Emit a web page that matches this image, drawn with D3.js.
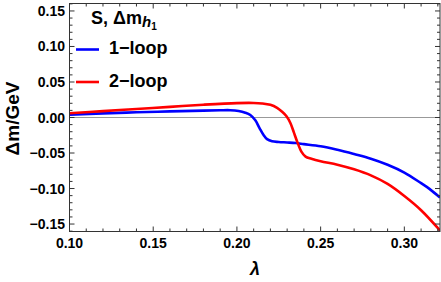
<!DOCTYPE html>
<html><head><meta charset="utf-8">
<script src="https://cdn.jsdelivr.net/npm/d3@7"></script>
<style>body{margin:0;background:#fff}svg{display:block}text{font-family:"Liberation Sans",Arial,sans-serif;font-weight:bold}</style>
</head><body><svg id="c" width="441" height="282"></svg>
<script>
const lambda1 = [0.10,0.12,0.14,0.16,0.18,0.19,0.196,0.201,0.205,0.208,0.211,0.2135,0.216,0.218,0.221,0.225,0.23,0.235,0.24,0.25,0.26,0.27,0.28,0.29,0.30,0.31,0.315,0.3213];
const loop1 = [0.004,0.0058,0.0073,0.0086,0.0097,0.0102,0.0103,0.0092,0.0068,0.0035,-0.004,-0.015,-0.025,-0.0305,-0.0335,-0.0345,-0.0352,-0.036,-0.0375,-0.0405,-0.0455,-0.0515,-0.058,-0.0665,-0.0775,-0.0925,-0.1005,-0.1127];
const lambda2 = [0.10,0.12,0.14,0.16,0.18,0.20,0.21,0.215,0.22,0.224,0.227,0.2295,0.232,0.234,0.236,0.2385,0.241,0.2445,0.25,0.26,0.27,0.28,0.29,0.30,0.31,0.3213];
const loop2 = [0.006,0.009,0.012,0.015,0.018,0.0203,0.0205,0.0198,0.0178,0.0135,0.008,0.002,-0.008,-0.021,-0.034,-0.048,-0.055,-0.058,-0.0615,-0.0665,-0.073,-0.0815,-0.0935,-0.1105,-0.1305,-0.159];
const xTicks = [0.10,0.15,0.20,0.25,0.30];
const yTicks = [-0.15,-0.10,-0.05,0.00,0.05,0.10,0.15];
const seriesNames = ["1\u2212loop","2\u2212loop"];
const seriesColors = ["#0000ff","#ff0000"];

const svg = d3.select("#c");
const L=69.5,R=440,T=3.5,B=231.5;
const x = d3.scaleLinear().domain([0.10,0.3213]).range([L,R]);
const y = d3.scaleLinear().domain([-0.1605,0.1605]).range([B,T]);

svg.append("line").attr("x1",L).attr("x2",R).attr("y1",y(0)).attr("y2",y(0)).attr("stroke","#999").attr("stroke-width",1);

svg.append("clipPath").attr("id","cl").append("rect").attr("x",L).attr("y",T).attr("width",R-L).attr("height",B-T);
const line = d3.line().x(d=>x(d[0])).y(d=>y(d[1])).curve(d3.curveCatmullRom.alpha(0.5));
const data = [lambda1.map((l,i)=>[l,loop1[i]]), lambda2.map((l,i)=>[l,loop2[i]])];
data.forEach((d,i)=>{
  svg.append("path").attr("d",line(d)).attr("fill","none").attr("stroke",seriesColors[i]).attr("stroke-width",2.6).attr("clip-path","url(#cl)");
});

const g = svg.append("g").attr("stroke","#333").attr("stroke-width",1);
const xMinor = d3.range(0.10,0.3205,0.01);
const yMinor = d3.range(-0.16,0.1605,0.01);
xMinor.forEach(v=>{
  const major = xTicks.some(t=>Math.abs(t-v)<1e-6);
  const len = major?5:3;
  g.append("line").attr("x1",x(v)).attr("x2",x(v)).attr("y1",B).attr("y2",B-len);
  g.append("line").attr("x1",x(v)).attr("x2",x(v)).attr("y1",T).attr("y2",T+len);
});
yMinor.forEach(v=>{
  const major = yTicks.some(t=>Math.abs(t-v)<1e-6);
  const len = major?5:3;
  g.append("line").attr("y1",y(v)).attr("y2",y(v)).attr("x1",L).attr("x2",L+len);
  g.append("line").attr("y1",y(v)).attr("y2",y(v)).attr("x1",R).attr("x2",R-len);
});
svg.append("rect").attr("x",L).attr("y",T).attr("width",R-L).attr("height",B-T).attr("fill","none").attr("stroke","#333").attr("stroke-width",1);

xTicks.forEach(t=>{
  svg.append("text").attr("x",x(t)).attr("y",248).attr("text-anchor","middle").attr("font-size",14).text(t.toFixed(2));
});
yTicks.forEach(t=>{
  svg.append("text").attr("x",65).attr("y",y(t)+5).attr("text-anchor","end").attr("font-size",14).text(t<0?"\u2212"+Math.abs(t).toFixed(2):t.toFixed(2));
});

svg.append("text").attr("x",255).attr("y",275).attr("text-anchor","middle").attr("font-size",18).attr("font-style","italic").text("\u03bb");
svg.append("text").attr("transform","translate(19,118.5) rotate(-90)").attr("text-anchor","middle").attr("font-size",19).text("\u0394m/GeV");

const title = svg.append("text").attr("x",91).attr("y",23.5).attr("font-size",18);
title.append("tspan").text("S, \u0394m");
title.append("tspan").attr("font-style","italic").attr("font-size",15).attr("dy",3).text("h");
title.append("tspan").attr("font-size",10).attr("dy",3).text("1");
const legY=[49.5,82];
seriesNames.forEach((n,i)=>{
  svg.append("line").attr("x1",76).attr("x2",99).attr("y1",legY[i]).attr("y2",legY[i]).attr("stroke",seriesColors[i]).attr("stroke-width",2.6);
  svg.append("text").attr("x",109).attr("y",legY[i]+4.5).attr("font-size",18).text(n);
});
</script></body></html>
